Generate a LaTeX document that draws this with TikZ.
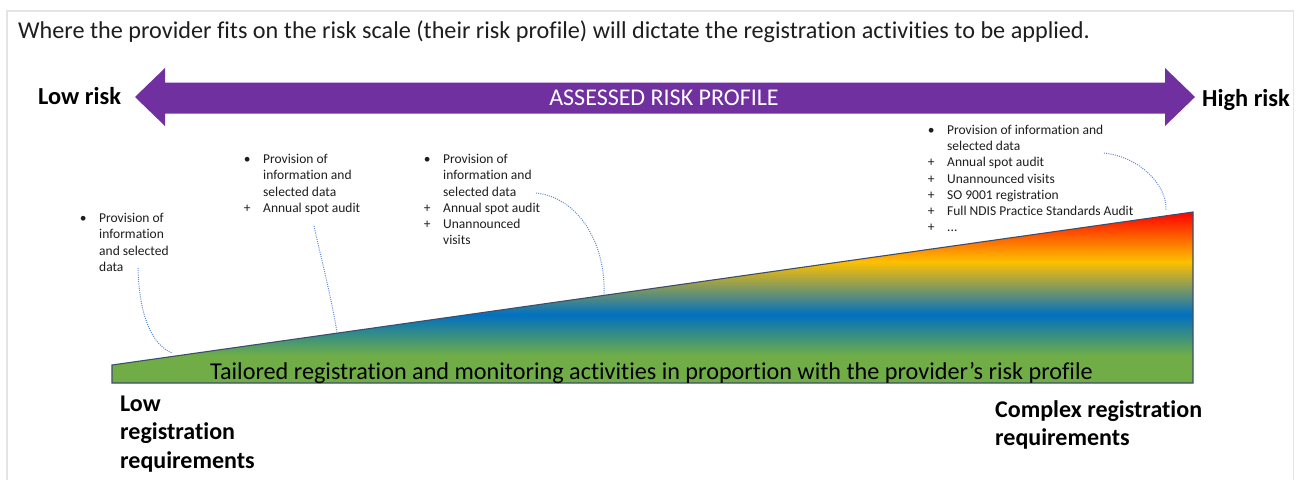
\documentclass[tikz,border=0pt]{standalone}
\usepackage{fontspec}
\setmainfont{Carlito}[Ligatures=CommonOff]
\definecolor{riskpurple}{HTML}{7030A0}
\definecolor{rampred}{HTML}{FF0000}
\definecolor{rampyellow}{HTML}{FFC000}
\definecolor{rampblue}{HTML}{0070C0}
\definecolor{rampgreen}{HTML}{70AD47}
\definecolor{edgeslate}{HTML}{3E4E6A}
\definecolor{framegray}{HTML}{E4E4E4}
\definecolor{inkdark}{HTML}{1E1E1E}
\definecolor{leaderblue}{HTML}{5B8BD6}
% vertical colour ramp: green at the base, through blue and amber, to red at the top
\pgfdeclareverticalshading{riskramp}{100bp}{%
  color(0bp)=(rampgreen); color(25bp)=(rampgreen); color(33bp)=(rampgreen);
  color(45bp)=(rampblue); color(60.5bp)=(rampyellow); color(75bp)=(rampred);
  color(100bp)=(rampred)}
\newcommand{\itembul}{\makebox[22pt][l]{\makebox[12pt][c]{•}}}
\newcommand{\itemplus}{\makebox[22pt][l]{\makebox[12pt][c]{+}}}
\begin{document}
\begin{tikzpicture}[x=1pt,y=-1pt,
  headline/.style={font=\fontsize{24.2}{29}\selectfont, text=inkdark, inner sep=0pt},
  endlabel/.style={font=\fontsize{24.4}{29}\selectfont\bfseries, text=black, inner sep=0pt},
  reqlabel/.style={font=\fontsize{24}{28.5}\selectfont\bfseries, text=black, inner sep=0pt, anchor=north west},
  activity/.style={font=\fontsize{13.5}{16.2}\selectfont, text=inkdark, inner sep=0pt, anchor=north west},
  leader/.style={leaderblue, line width=1pt, dash pattern=on 1pt off 1.2pt}]
\useasboundingbox (0,0) rectangle (1296,480);
\fill[white] (0,0) rectangle (1296,480);
\draw[framegray, line width=1.6pt] (6.8,480) -- (6.8,10.7) -- (1293.5,10.7) -- (1293.5,480);

% heading
\node[headline, anchor=base west] (heading) at (18,38)
  {Where the provider fits on the risk scale (their risk profile) will dictate the registration activities to be applied.};

% double-headed risk arrow
\fill[riskpurple] (135,97) -- (165,68) -- (165,82.5) -- (1165,82.5) -- (1165,68) -- (1195,97)
  -- (1165,126) -- (1165,113.5) -- (165,113.5) -- (165,126) -- cycle;
\node[headline, font=\fontsize{24}{29}\selectfont, text=white, anchor=base] (profile) at (664,105) {ASSESSED RISK PROFILE};
\node[endlabel, anchor=base west] (lowrisk) at (38,104.5) {Low risk};
\node[endlabel, anchor=base west] (highrisk) at (1202,106) {High risk};

% rising wedge of registration activity
\shade[shading=riskramp] (112,383) -- (112,365) -- (1193,212) -- (1193,383) -- cycle;
\draw[edgeslate, line width=1.1pt, line join=miter] (112,383) -- (112,365) -- (1193,212) -- (1193,383) -- cycle;
\node[headline, text=black, anchor=base] (tailored) at (651.5,379.5)
  {Tailored registration and monitoring activities in proportion with the provider’s risk profile};

% requirement labels under the wedge
\node[reqlabel] (lowreq) at (120,391)
  {\begin{tabular}{@{}l@{}}Low\\registration\\requirements\end{tabular}};
\node[reqlabel] (complexreq) at (995,397)
  {\begin{tabular}{@{}l@{}}Complex registration\\requirements\end{tabular}};

% activity lists
\node[activity] (acta) at (77,211.2)
  {\begin{tabular}{@{}l@{}l@{}}\itembul & Provision of\\ & information\\ & and selected\\ & data\end{tabular}};
\node[activity] (actb) at (241,152.2)
  {\begin{tabular}{@{}l@{}l@{}}\itembul & Provision of\\ & information and\\ & selected data\\ \itemplus & Annual spot audit\end{tabular}};
\node[activity] (actc) at (421,152.2)
  {\begin{tabular}{@{}l@{}l@{}}\itembul & Provision of\\ & information and\\ & selected data\\ \itemplus & Annual spot audit\\ \itemplus & Unannounced\\ & visits\end{tabular}};
\node[activity] (actd) at (925,122.9)
  {\begin{tabular}{@{}l@{}l@{}}\itembul & Provision of information and\\ & selected data\\ \itemplus & Annual spot audit\\ \itemplus & Unannounced visits\\ \itemplus & SO 9001 registration\\ \itemplus & Full NDIS Practice Standards Audit\\ \itemplus & ...\end{tabular}};

% leader ends on the lists and on the wedge
\coordinate (acta-tail) at (138,268);
\coordinate (acta-hit) at (172,353);
\coordinate (actb-tail) at (314,226);
\coordinate (actb-hit) at (337,333);
\coordinate (actc-tail) at (536,193);
\coordinate (actc-hit) at (604,295);
\coordinate (actd-tail) at (1104,153);
\coordinate (actd-hit) at (1166,210);

\draw[leader] (acta-tail) .. controls (139,315) and (152,345) .. (acta-hit);
\draw[leader] (actb-tail) .. controls (322,262) and (332,300) .. (actb-hit);
\draw[leader] (actc-tail) .. controls (576,197) and (606,240) .. (actc-hit);
\draw[leader] (actd-tail) .. controls (1140,157) and (1167,185) .. (actd-hit);
\end{tikzpicture}
\end{document}
